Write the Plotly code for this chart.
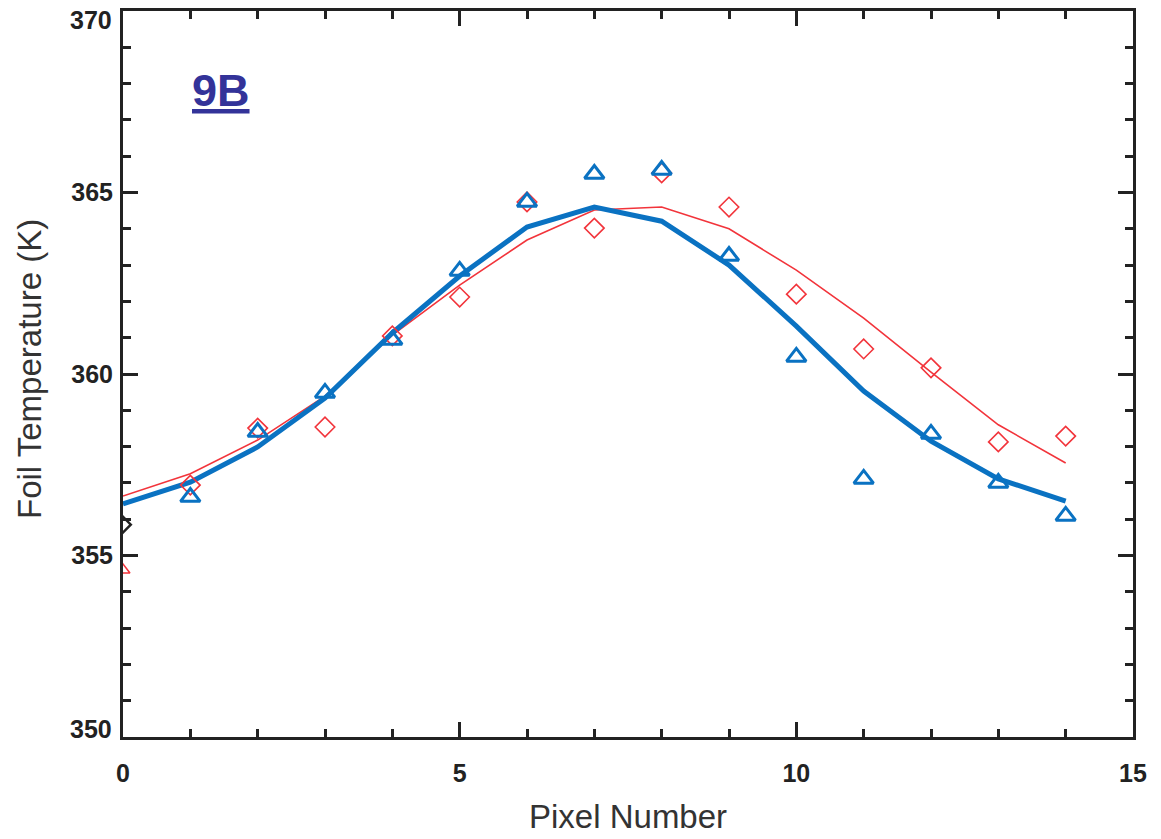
import plotly.graph_objects as go

pixels = list(range(0, 15))
meas_x = list(range(1, 15))
blue_meas = [356.61, 358.40, 359.48, 360.94, 362.84, 364.74, 365.51, 365.62, 363.25, 360.47, 357.11, 358.35, 357.00, 356.09]
red_meas = [356.94, 358.51, 358.54, 361.05, 362.12, 364.74, 364.02, 365.54, 364.60, 362.20, 360.69, 360.17, 358.13, 358.29]
blue_fit = [356.42, 357.02, 357.99, 359.34, 361.13, 362.70, 364.05, 364.60, 364.21, 363.00, 361.32, 359.53, 358.15, 357.11, 356.50]
red_fit = [356.64, 357.25, 358.18, 359.39, 361.07, 362.45, 363.69, 364.52, 364.60, 364.00, 362.86, 361.54, 360.05, 358.60, 357.55]
edge_x = [0]
edge_black = [355.85]
edge_red = [354.6]

y_tick_vals = [350, 355, 360, 365, 370]
y_tick_labels = ["350", "355", "360", "365", "370"]
x_tick_vals = [0, 5, 10, 15]
x_tick_labels = ["0", "5", "10", "15"]

BLUE = "#0A72C2"
RED = "#F2343B"
SANS = "Liberation Sans, Arial, Helvetica, sans-serif"
TICKFONT = dict(family=SANS, size=25, color="#222", weight="bold")

fig = go.Figure()
fig.add_trace(go.Scatter(x=pixels, y=red_fit, mode="lines",
                         line=dict(color=RED, width=1.6), showlegend=False))
fig.add_trace(go.Scatter(x=pixels, y=blue_fit, mode="lines",
                         line=dict(color=BLUE, width=5), showlegend=False))
fig.add_trace(go.Scatter(x=meas_x, y=red_meas, mode="markers",
                         marker=dict(symbol="diamond-open", size=15, color=RED,
                                     line=dict(width=1.6, color=RED)), showlegend=False))
fig.add_trace(go.Scatter(x=meas_x, y=blue_meas, mode="markers",
                         marker=dict(symbol="triangle-up-open", size=17, color=BLUE,
                                     line=dict(width=3, color=BLUE)), showlegend=False))
fig.add_trace(go.Scatter(x=edge_x, y=edge_black, mode="markers",
                         marker=dict(symbol="diamond-open", size=12, color="#222",
                                     line=dict(width=2.5, color="#222")), showlegend=False))
fig.add_trace(go.Scatter(x=edge_x, y=edge_red, mode="markers",
                         marker=dict(symbol="triangle-up-open", size=12, color=RED,
                                     line=dict(width=1.6, color=RED)), showlegend=False))

axis_common = dict(showgrid=False, zeroline=False, showline=True, linecolor="#222",
                   linewidth=3, mirror="allticks", ticks="inside", tickcolor="#222",
                   tickwidth=3, ticklen=15, automargin=False, ticklabeloverflow="allow",
                   tickfont=TICKFONT)

fig.update_xaxes(range=[0, 15], tickmode="array", tickvals=x_tick_vals, ticktext=x_tick_labels,
                 ticklabelstandoff=12,
                 minor=dict(dtick=1, ticks="inside", ticklen=8, tickwidth=2.5, tickcolor="#222"),
                 **axis_common)
# end labels of the y axis are nudged inward (as in the original), drawn as annotations below
inner_labels = [t if 350 < v < 370 else "" for v, t in zip(y_tick_vals, y_tick_labels)]
fig.update_yaxes(range=[350, 370], tickmode="array", tickvals=y_tick_vals, ticktext=inner_labels,
                 ticklabelstandoff=2,
                 minor=dict(tick0=350, dtick=1, ticks="inside", ticklen=8, tickwidth=2.5, tickcolor="#222"),
                 **axis_common)

annotations = [
    dict(text="Pixel Number", x=0.5, y=-0.138, xref="paper", yref="paper",
         xanchor="center", yanchor="bottom", showarrow=False,
         font=dict(family=SANS, size=33, color="#333")),
    dict(text="Foil Temperature (K)", x=-0.092, y=0.507, xref="paper", yref="paper",
         xanchor="center", yanchor="middle", textangle=-90, showarrow=False,
         font=dict(family=SANS, size=33, color="#333")),
    dict(text="<b><u>9B</u></b>", x=1.0, y=367.8, xref="x", yref="y",
         xanchor="left", yanchor="middle", showarrow=False,
         font=dict(family=SANS, size=45, color="#333399")),
]
for v, t in zip(y_tick_vals, y_tick_labels):
    if v in (350, 370):
        annotations.append(dict(text=t, x=-0.009, xref="paper", y=v + (0.22 if v == 350 else -0.25),
                                yref="y", xanchor="right", yanchor="middle", showarrow=False,
                                font=TICKFONT))

fig.update_layout(
    width=1161, height=839,
    margin=dict(l=123, r=28, t=11, b=102),
    paper_bgcolor="white", plot_bgcolor="white",
    annotations=annotations,
)

fig.write_html("out.html")
